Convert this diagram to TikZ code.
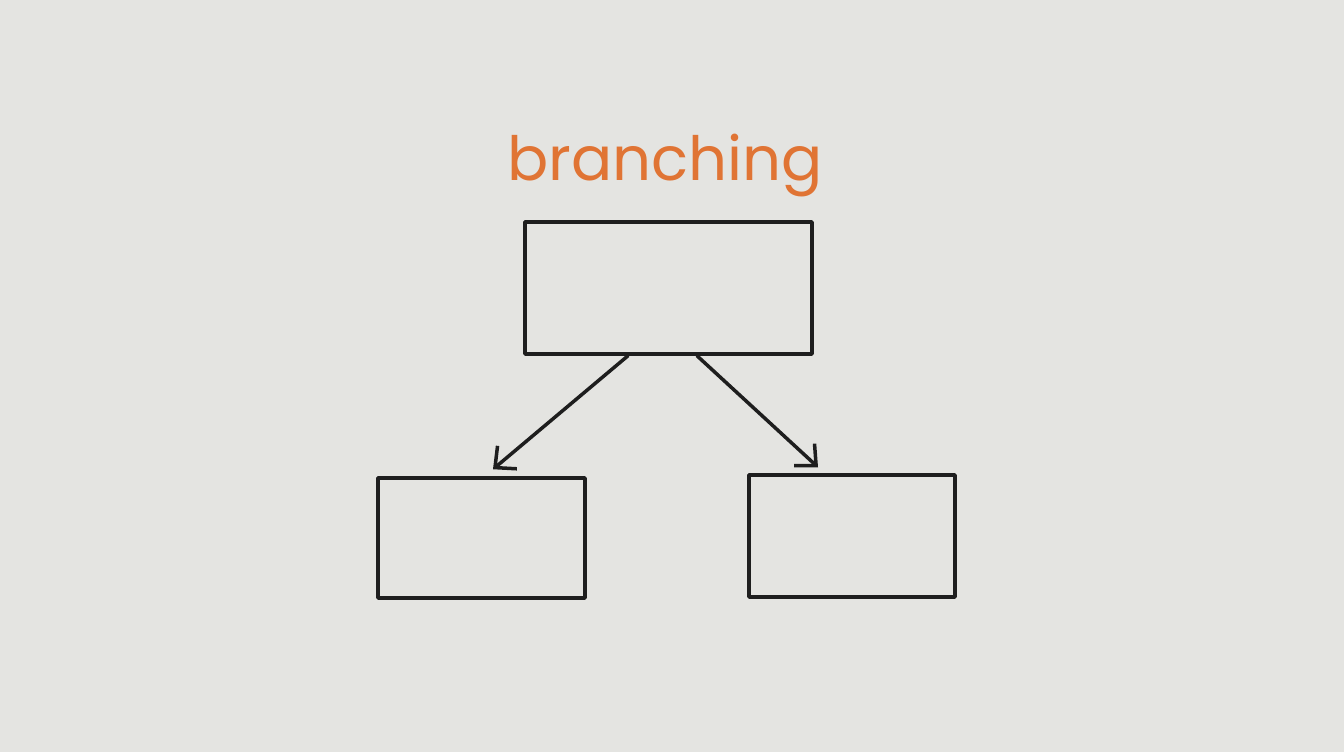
\documentclass[tikz,border=0pt]{standalone}
\usepackage{fontspec}
\newfontfamily\handfont{Poppins}
\usetikzlibrary{arrows.meta}
\definecolor{paper}{RGB}{228,228,225}
\definecolor{ink}{RGB}{30,30,30}
\definecolor{marker}{RGB}{224,116,52}
\tikzset{
  box/.style={draw=ink, line width=3.5pt, rectangle, inner sep=0pt, line join=round},
  link/.style={draw=ink, line width=3.5pt, line cap=round, -{Straight Barb[length=16pt, width=30pt, line width=3.5pt]}},
  title/.style={text=marker, font=\handfont\fontsize{61}{70}\selectfont, inner sep=0pt, anchor=base}
}
\begin{document}
\begin{tikzpicture}[x=1pt,y=-1pt]
  \fill[paper] (0,0) rectangle (1344,752);
  \useasboundingbox (0,0) rectangle (1344,752);
  \node[title] (t) at (665,180) {branching};
  \node[box, minimum width=287pt, minimum height=132pt] (top) at (668.5,288) {};
  \node[box, minimum width=207pt, minimum height=120pt] (bl) at (481.5,538) {};
  \node[box, minimum width=206pt, minimum height=122pt] (br) at (852,536) {};
  \draw[link] ([xshift=-40.5pt]top.south) -- ([xshift=11.5pt,yshift=7pt]bl.north);
  \draw[link] ([xshift=28.5pt]top.south) -- ([xshift=-34pt,yshift=6pt]br.north);
\end{tikzpicture}
\end{document}
